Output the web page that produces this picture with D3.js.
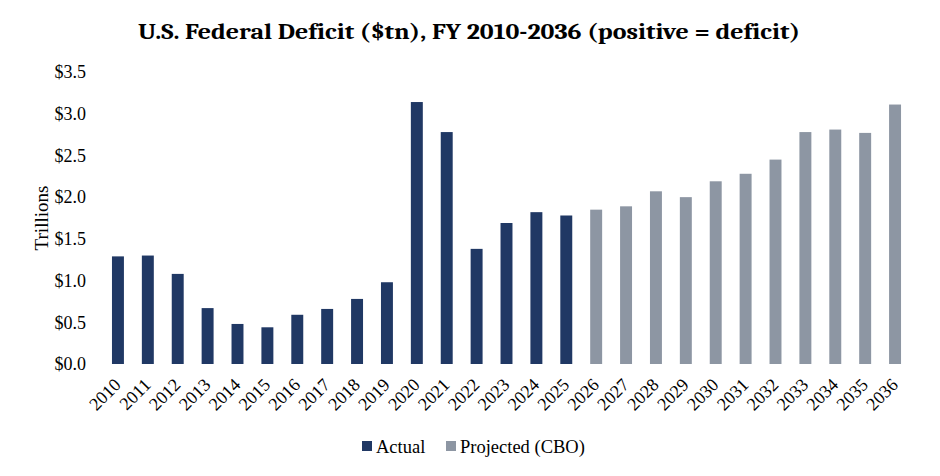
<!DOCTYPE html>
<html><head><meta charset="utf-8">
<script src="https://cdn.jsdelivr.net/npm/d3@7"></script>
<style>body{margin:0;background:#fff}svg{display:block}</style>
</head><body><svg id="c" width="940" height="476"></svg>
<script>
const years = ["2010","2011","2012","2013","2014","2015","2016","2017","2018","2019","2020","2021","2022","2023","2024","2025","2026","2027","2028","2029","2030","2031","2032","2033","2034","2035","2036"];
const deficits = [1.29,1.30,1.08,0.67,0.48,0.44,0.59,0.66,0.78,0.98,3.14,2.78,1.38,1.69,1.82,1.78,1.85,1.89,2.07,2.00,2.19,2.28,2.45,2.78,2.81,2.77,3.11];
const types = ["Actual","Actual","Actual","Actual","Actual","Actual","Actual","Actual","Actual","Actual","Actual","Actual","Actual","Actual","Actual","Actual","Projected (CBO)","Projected (CBO)","Projected (CBO)","Projected (CBO)","Projected (CBO)","Projected (CBO)","Projected (CBO)","Projected (CBO)","Projected (CBO)","Projected (CBO)","Projected (CBO)"];
const yTicks = [0,0.5,1.0,1.5,2.0,2.5,3.0,3.5];
const seriesNames = ["Actual","Projected (CBO)"];
const seriesColors = ["#203864","#8d96a3"];

const svg = d3.select("#c");
const serif = "Liberation Serif, Times New Roman, serif";
const color = d3.scaleOrdinal().domain(seriesNames).range(seriesColors);
const x = d3.scaleBand().domain(years).range([103,910]).paddingInner(0.6).paddingOuter(0.3);
const y = d3.scaleLinear().domain([0,3.5]).range([364,72]);

svg.append("text").attr("x",469).attr("y",38.5).attr("text-anchor","middle")
  .style("font-family","Cambria, Liberation Serif, serif").attr("font-weight","bold")
  .attr("font-size",23).attr("textLength",662).attr("lengthAdjust","spacingAndGlyphs")
  .text("U.S. Federal Deficit ($tn), FY 2010-2036 (positive = deficit)");

// y axis
const ya = svg.append("g").attr("transform","translate(89,0)")
  .call(d3.axisLeft(y).tickValues(yTicks).tickSize(0).tickPadding(3).tickFormat(d=>"$"+d3.format(".1f")(d)));
ya.select(".domain").remove();
ya.selectAll("text").style("font-family",serif).attr("font-size",18).attr("fill","#000");

svg.append("text").attr("transform","translate(48,218) rotate(-90)").attr("text-anchor","middle")
  .style("font-family",serif).attr("font-size",19).text("Trillions");

svg.append("g").selectAll("rect").data(years).join("rect")
  .attr("x",d=>x(d)).attr("width",x.bandwidth())
  .attr("y",(d,i)=>y(deficits[i])).attr("height",(d,i)=>y(0)-y(deficits[i]))
  .attr("fill",(d,i)=>color(types[i]));

// x axis
const xa = svg.append("g").attr("transform","translate(0,364)")
  .call(d3.axisBottom(x).tickSize(0));
xa.select(".domain").remove();
xa.selectAll("text").style("font-family",serif).attr("font-size",18).attr("fill","#000")
  .attr("text-anchor","end").attr("y",0).attr("dy",0).attr("transform","translate(4,22) rotate(-45)");

// legend
const leg = svg.append("g");
const legX = [362,446];
seriesNames.forEach((n,i)=>{
  leg.append("rect").attr("x",legX[i]).attr("y",441).attr("width",10).attr("height",10).attr("fill",seriesColors[i]);
  leg.append("text").attr("x",legX[i]+14).attr("y",452.5).style("font-family",serif).attr("font-size",18.5).text(n);
});
</script></body></html>
